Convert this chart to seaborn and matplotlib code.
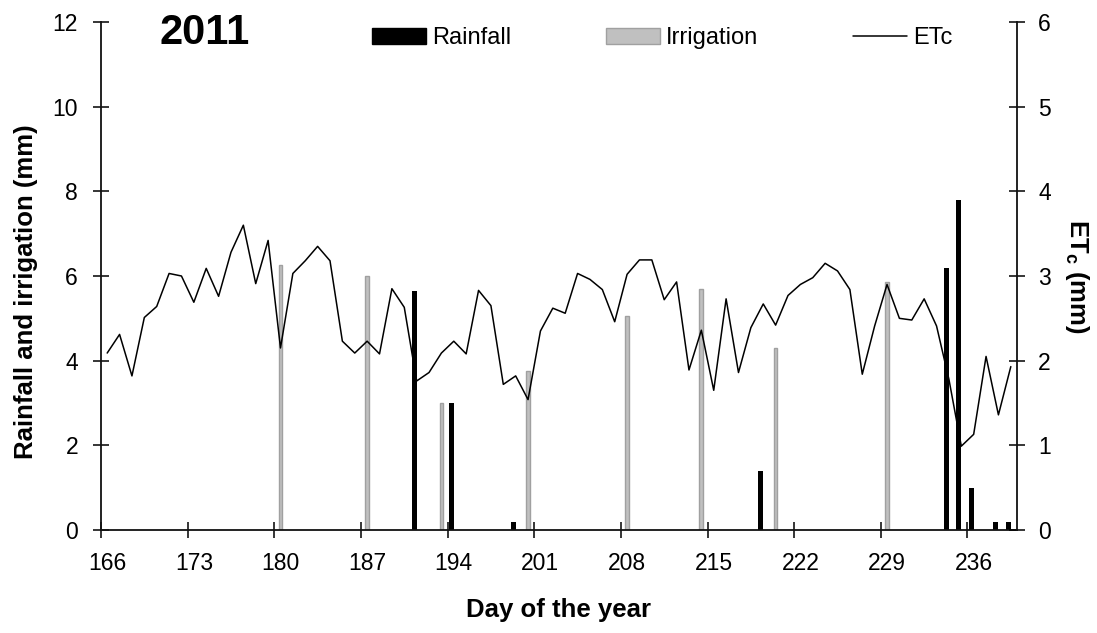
import numpy as np
import matplotlib
matplotlib.use("Agg")
import matplotlib.pyplot as plt
import seaborn as sns
from matplotlib.patches import Patch
from matplotlib.lines import Line2D

# ---------------- data ----------------
days = list(range(166, 240))
etc = [2.09, 2.31, 1.82, 2.51, 2.64, 3.03, 3.00, 2.69, 3.09, 2.76, 3.28, 3.60, 2.91, 3.42, 2.15,
       3.03, 3.18, 3.35, 3.18, 2.23, 2.09, 2.23, 2.08, 2.85, 2.63, 1.76, 1.86, 2.09, 2.23, 2.08,
       2.83, 2.65, 1.72, 1.82, 1.54, 2.35, 2.62, 2.56, 3.03, 2.96, 2.84, 2.46, 3.02, 3.19, 3.19,
       2.72, 2.93, 1.89, 2.36, 1.65, 2.73, 1.86, 2.39, 2.67, 2.42, 2.77, 2.90, 2.98, 3.15, 3.06,
       2.84, 1.84, 2.41, 2.90, 2.50, 2.48, 2.73, 2.41, 1.78, 0.99, 1.13, 2.05, 1.36, 1.93]

rain_days = [191, 194, 199, 219, 234, 235, 236, 238, 239]
rain_mm = [5.65, 3.0, 0.2, 1.4, 6.2, 7.8, 1.0, 0.2, 0.2]

irr_days = [180, 187, 193, 200, 208, 214, 220, 229]
irr_mm = [6.25, 6.0, 3.0, 3.75, 5.05, 5.7, 4.3, 5.85]

tick_days = list(range(166, 240, 7))
left_ticks = [0, 2, 4, 6, 8, 10, 12]
right_ticks = [0, 1, 2, 3, 4, 5, 6]

# ---------------- style ----------------
sns.set_theme(style="white")
plt.rcParams["font.family"] = ["Liberation Sans", "DejaVu Sans"]
plt.rcParams["mathtext.default"] = "regular"
plt.rcParams["text.color"] = "black"
plt.rcParams["axes.labelcolor"] = "black"
plt.rcParams["xtick.color"] = "black"
plt.rcParams["ytick.color"] = "black"

W, H = 1097, 633
fig = plt.figure(figsize=(W / 100, H / 100), dpi=100)
L, R, T, B = 101, 1017, 22, 530
ax = fig.add_axes([L / W, 1 - B / H, (R - L) / W, (B - T) / H])

IRR_FACE = "#c0c0c0"
IRR_EDGE = "#a0a0a0"

# bars (native numeric day scale)
rain_x = np.array(rain_days, dtype=float) - 0.2
rain_unit = np.diff(np.unique(rain_x)).min()
sns.barplot(x=rain_x, y=rain_mm, native_scale=True, width=0.4 / rain_unit,
            color="black", saturation=1, edgecolor="black", linewidth=0,
            errorbar=None, ax=ax)

irr_x = np.array(irr_days, dtype=float)
irr_unit = np.diff(np.unique(irr_x)).min()
sns.barplot(x=irr_x, y=irr_mm, native_scale=True, width=0.3 / irr_unit,
            color=IRR_FACE, saturation=1, edgecolor=IRR_EDGE, linewidth=1,
            errorbar=None, ax=ax)

ax.set_xlim(165.5, 239.5)
ax.set_ylim(0, 12)

ax2 = ax.twinx()
sns.lineplot(x=days, y=etc, color="black", linewidth=1.1, ax=ax2, legend=False)
ax2.set_ylim(0, 6)

# ticks
ax.set_xticks(tick_days)
ax.set_xticklabels([str(d) for d in tick_days])
ax.set_xticks(np.array(tick_days) - 0.5, minor=True)
ax.tick_params(axis="x", which="major", length=0, pad=15.5, labelsize=16.5, colors="black")
ax.tick_params(axis="x", which="minor", direction="inout", length=11.5, width=1.1,
               color="black", bottom=True)
ax.set_yticks(left_ticks)
ax.set_yticklabels([str(v) for v in left_ticks])
ax.tick_params(axis="y", direction="inout", length=11.5, width=1.1, pad=10.8,
               labelsize=16.5, colors="black", left=True)
ax2.set_yticks(right_ticks)
ax2.set_yticklabels([str(v) for v in right_ticks])
ax2.tick_params(axis="y", direction="inout", length=11.5, width=1.1, pad=9.4,
                labelsize=16.5, colors="black", right=True)

for a in (ax, ax2):
    a.grid(False)
    a.spines["top"].set_visible(False)
    for s in ("left", "right", "bottom"):
        a.spines[s].set_color("#111111")
        a.spines[s].set_linewidth(1.3)
ax.spines["right"].set_visible(False)
ax2.spines["left"].set_visible(False)
ax2.spines["bottom"].set_visible(False)

# labels
ax.set_xlabel("Day of the year", fontsize=18.5, fontweight="bold", va="top", color="black")
ax.xaxis.set_label_coords(0.5, -0.134)
ax.set_ylabel("Rainfall and irrigation (mm)", fontsize=18.5, fontweight="bold", color="black")
ax.yaxis.set_label_coords((38 - L) / (R - L), 0.47)
ax2.set_ylabel("ET$_c$ (mm)", fontsize=18.5, fontweight="bold", rotation=270, va="bottom",
               color="black")
ax2.yaxis.set_label_coords((1063 - L) / (R - L), 0.5)

# title & legend
fig.text(205 / W, 1 - 33 / H, "2011", ha="center", va="center", fontsize=30,
         fontweight="bold", color="black")
handles = [Patch(facecolor="black", edgecolor="black"),
           Patch(facecolor=IRR_FACE, edgecolor=IRR_EDGE),
           Line2D([], [], color="black", linewidth=1.1)]
leg = fig.legend(handles, ["Rainfall", "Irrigation", "ETc"], loc="center left",
                 bbox_to_anchor=(372 / W, 1 - 38 / H), bbox_transform=fig.transFigure,
                 ncol=3, frameon=False, fontsize=17, handlelength=2.3, handleheight=0.64,
                 handletextpad=0.25, columnspacing=4.0, borderpad=0, borderaxespad=0)
for t in leg.get_texts():
    t.set_color("black")

fig.savefig("out.png", dpi=100)
